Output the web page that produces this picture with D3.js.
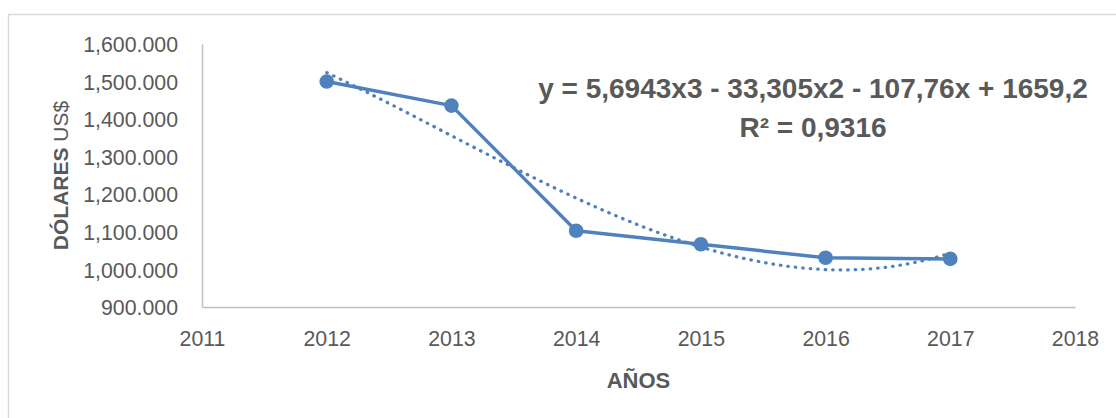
<!DOCTYPE html>
<html>
<head>
<meta charset="utf-8">
<script src="https://cdn.jsdelivr.net/npm/d3@7"></script>
<style>
  html, body { margin: 0; padding: 0; background: #ffffff; }
  svg { display: block; }
  text { font-family: "Liberation Sans", Arial, sans-serif; fill: #595959; }
</style>
</head>
<body>
<svg id="chart" width="1116" height="418"></svg>
<script>
// ---- data ----
const years = [2012, 2013, 2014, 2015, 2016, 2017];
const values = [1500, 1436, 1103, 1067, 1031, 1028];
const xTicks = [2011, 2012, 2013, 2014, 2015, 2016, 2017, 2018];
const yTicks = [900, 1000, 1100, 1200, 1300, 1400, 1500, 1600];
const yTickLabels = ["900.000", "1,000.000", "1,100.000", "1,200.000", "1,300.000", "1,400.000", "1,500.000", "1,600.000"];
// polynomial trendline coefficients (x = year - 2011): a3, a2, a1, a0
const trendCoef = [5.6943, -33.305, -107.76, 1659.2];
const equationText = "y = 5,6943x3 - 33,305x2 - 107,76x + 1659,2";
const r2Text = "R² = 0,9316";
const xTitle = "AÑOS";
const yTitleBold = "DÓLARES";
const yTitleRest = " US$";

// ---- layout ----
const svg = d3.select("#chart");
const color = "#4F81BD";
const pLeft = 202, pRight = 1075, pTop = 44, pBottom = 307;

const x = d3.scaleLinear().domain([2011, 2018]).range([pLeft, pRight]);
const y = d3.scaleLinear().domain([900, 1600]).range([pBottom, pTop]);

// outer chart border
svg.append("rect")
  .attr("x", 8.5).attr("y", 14.5)
  .attr("width", 1130).attr("height", 430)
  .attr("fill", "none").attr("stroke", "#D9D9D9").attr("stroke-width", 1.5);

// axes
const yAxis = d3.axisLeft(y).tickValues(yTicks)
  .tickFormat((d, i) => yTickLabels[i]).tickSize(0).tickPadding(24);
const gy = svg.append("g").attr("transform", `translate(${pLeft},0)`).call(yAxis);
gy.select(".domain").attr("stroke", "#BFBFBF").attr("stroke-width", 1.5);
gy.selectAll("text").style("font-size", "21.3px").style("font-family", "'Liberation Sans', Arial, sans-serif").attr("fill", "#595959").attr("dy", "0.36em");

const xAxis = d3.axisBottom(x).tickValues(xTicks)
  .tickFormat(d3.format("d")).tickSize(0).tickPadding(24);
const gx = svg.append("g").attr("transform", `translate(0,${pBottom})`).call(xAxis);
gx.select(".domain").attr("stroke", "#BFBFBF").attr("stroke-width", 1.5);
gx.selectAll("text").style("font-size", "21.3px").style("font-family", "'Liberation Sans', Arial, sans-serif").attr("fill", "#595959").attr("dy", "0.71em");

// trendline
const poly = t => trendCoef[0]*t*t*t + trendCoef[1]*t*t + trendCoef[2]*t + trendCoef[3];
const tSamples = d3.range(1, 6.0001, 0.05);
svg.append("path")
  .datum(tSamples)
  .attr("d", d3.line().x(t => x(2011 + t)).y(t => y(poly(t))))
  .attr("fill", "none").attr("stroke", color).attr("stroke-width", 3.25)
  .attr("stroke-linecap", "round").attr("stroke-dasharray", "0.5 7");

// data line
const pts = years.map((yr, i) => ({yr, v: values[i]}));
svg.append("path")
  .datum(pts)
  .attr("d", d3.line().x(d => x(d.yr)).y(d => y(d.v)))
  .attr("fill", "none").attr("stroke", color).attr("stroke-width", 3.5)
  .attr("stroke-linejoin", "round");

svg.selectAll("circle.pt").data(pts).enter().append("circle")
  .attr("class", "pt")
  .attr("cx", d => x(d.yr)).attr("cy", d => y(d.v)).attr("r", 7.3)
  .attr("fill", color);

// equation labels
svg.append("text").attr("x", 813).attr("y", 97.5).attr("text-anchor", "middle")
  .style("font-size", "28px").style("font-weight", "bold").text(equationText);
svg.append("text").attr("x", 813).attr("y", 136.5).attr("text-anchor", "middle")
  .style("font-size", "28px").style("font-weight", "bold").text(r2Text);

// axis titles
svg.append("text").attr("x", (pLeft + pRight) / 2).attr("y", 388).attr("text-anchor", "middle")
  .style("font-size", "22px").style("font-weight", "bold").text(xTitle);

const yt = svg.append("text")
  .attr("transform", `translate(68,${(pTop + pBottom) / 2}) rotate(-90)`)
  .attr("text-anchor", "middle").style("font-size", "21px");
yt.append("tspan").style("font-weight", "bold").text(yTitleBold);
yt.append("tspan").text(yTitleRest);
</script>
</body>
</html>
